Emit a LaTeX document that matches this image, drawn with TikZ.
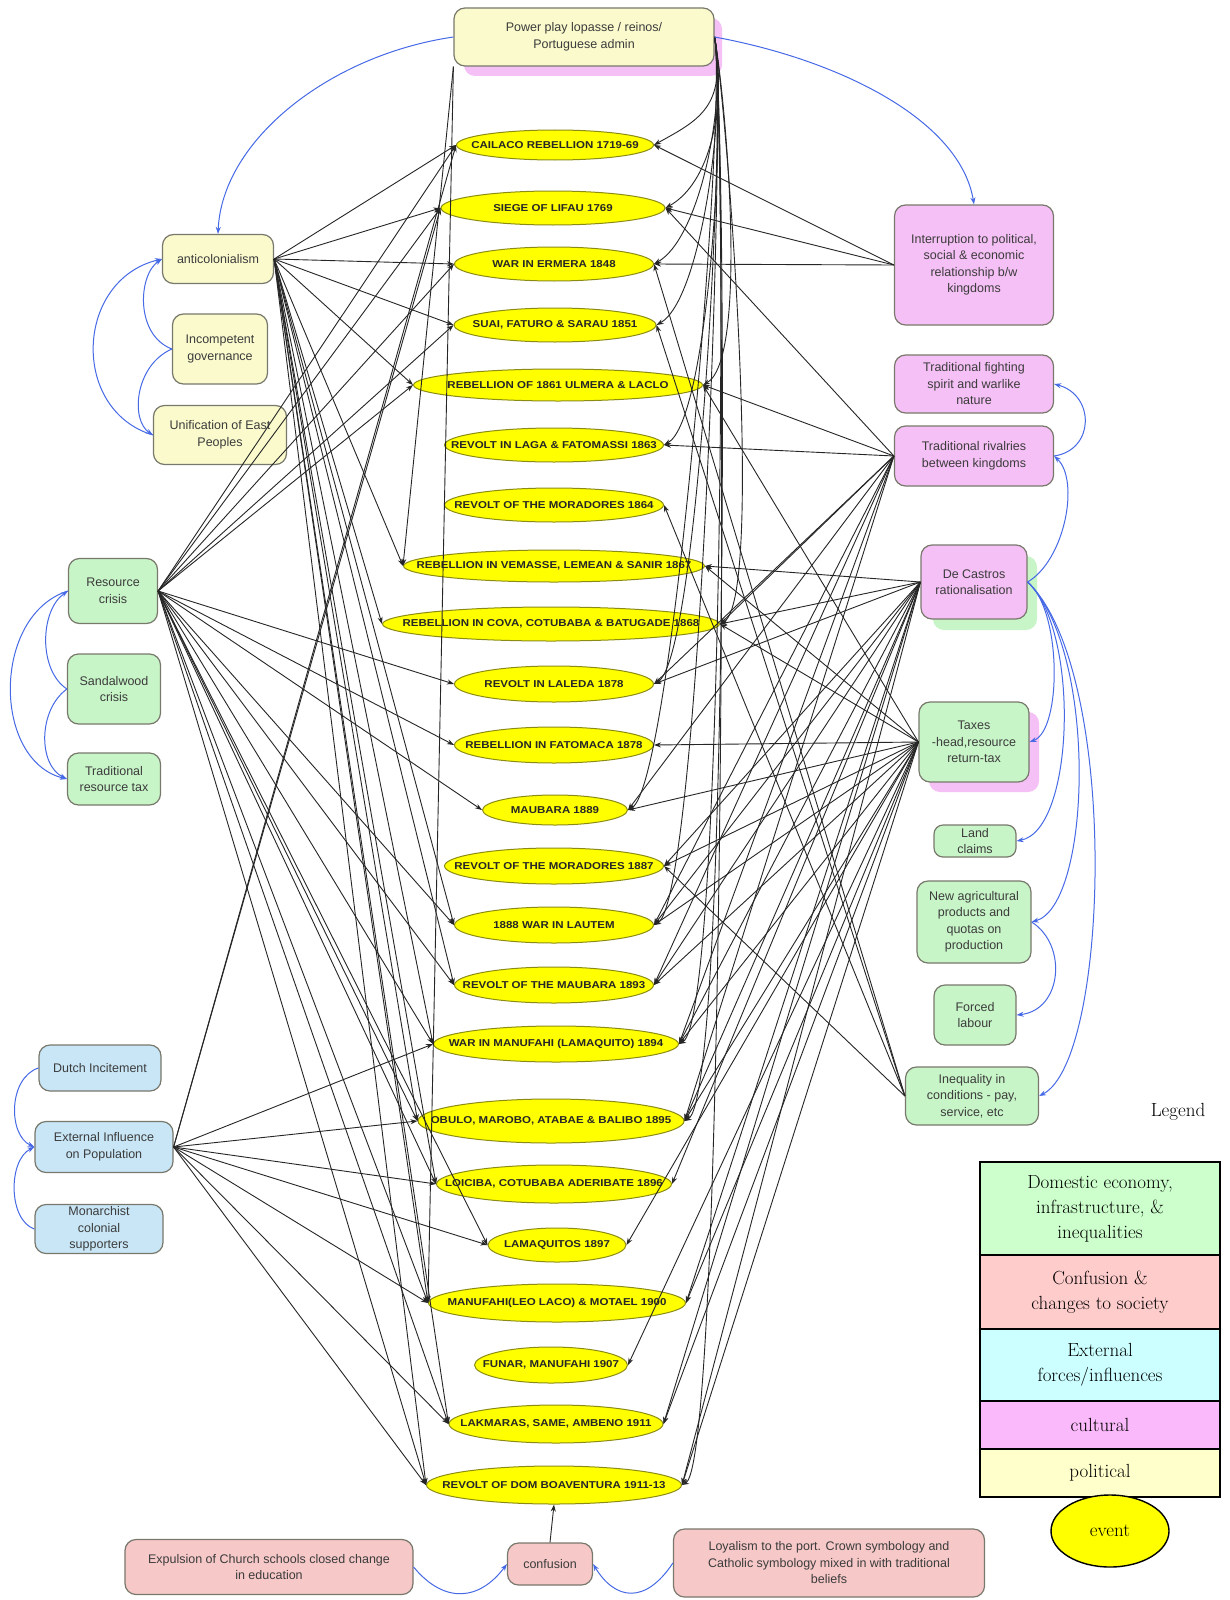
\documentclass[tikz,border=0pt]{standalone}
\usepackage{fontspec}
\setsansfont{Liberation Sans}
\newfontfamily\evfont[FakeStretch=1.15]{Liberation Sans}
\usetikzlibrary{shapes.geometric,arrows.meta}
\definecolor{polfill}{RGB}{250,250,205}
\definecolor{domfill}{RGB}{200,245,200}
\definecolor{extfill}{RGB}{200,230,246}
\definecolor{culfill}{RGB}{245,192,245}
\definecolor{conffill}{RGB}{246,200,200}
\definecolor{bord}{RGB}{120,120,108}
\definecolor{txt}{RGB}{60,60,60}
\definecolor{evfill}{RGB}{255,255,0}
\definecolor{evbord}{RGB}{140,140,20}
\definecolor{bluec}{RGB}{70,105,230}
\definecolor{lgdom}{RGB}{204,255,204}
\definecolor{lgconf}{RGB}{255,204,204}
\definecolor{lgext}{RGB}{204,255,255}
\definecolor{lgcul}{RGB}{250,185,250}
\definecolor{lgpol}{RGB}{255,255,204}
\newcommand\ev[6]{\node[evs, minimum width=#4pt, minimum height=#5pt] (#1) at (#2,#3) {};
  \node[evt] (#1t) at (#1.center) {#6};}
\begin{document}
\begin{tikzpicture}[x=1pt,y=-1pt,
  box/.style={rounded corners=11pt, draw=bord, line width=1.2pt, align=center, text=txt,
    font=\sffamily\fontsize{12.5}{16.5}\selectfont, inner sep=2pt},
  pol/.style={box, fill=polfill},
  dom/.style={box, fill=domfill},
  ext/.style={box, fill=extfill},
  cul/.style={box, fill=culfill},
  conf/.style={box, fill=conffill},
  evs/.style={ellipse, draw=evbord, fill=evfill, line width=1pt, inner sep=0pt},
  evt/.style={inner sep=0pt, font=\evfont\bfseries\fontsize{10}{11}\selectfont, text=black!85},
  blk/.style={-{Stealth[length=7pt,width=5pt]}, line width=0.9pt, black!85},
  blu/.style={-{Stealth[length=7pt,width=5pt]}, line width=1pt, bluec},
  lg/.style={rectangle, draw=black, line width=1.4pt, align=center,
    font=\rmfamily\fontsize{19}{25}\selectfont, inner sep=2pt, minimum width=240pt}
]
\fill[white] (0,0) rectangle (1230,1600);
\useasboundingbox (0,0) rectangle (1230,1600);

% shadows
\fill[culfill, rounded corners=11pt] (464,18) rectangle (722,76);
\fill[domfill, rounded corners=11pt] (933,556) rectangle (1037,630);
\fill[culfill, rounded corners=11pt] (929,712) rectangle (1039,792);

% top
\node[pol, minimum width=260pt, minimum height=58pt] (P) at (584,37) {Power play lopasse / reinos/\\Portuguese admin};

% left
\node[pol, minimum width=111pt, minimum height=49pt] (A) at (218,259) {anticolonialism};
\node[pol, minimum width=95pt, minimum height=70pt] (Inc) at (220,349) {Incompetent\\governance};
\node[pol, minimum width=133pt, minimum height=59pt] (U) at (220,435) {Unification of East\\Peoples};
\node[dom, minimum width=89pt, minimum height=65pt] (Rc) at (113,591) {Resource\\crisis};
\node[dom, minimum width=93pt, minimum height=70pt] (Sw) at (114,689) {Sandalwood\\crisis};
\node[dom, minimum width=93pt, minimum height=52pt] (Rt) at (114,779) {Traditional\\resource tax};
\node[ext, minimum width=122pt, minimum height=46pt] (Du) at (100,1068) {Dutch Incitement};
\node[ext, minimum width=138pt, minimum height=51pt] (Ex) at (104,1147) {External Influence\\on Population};
\node[ext, minimum width=128pt, minimum height=49pt] (Mo) at (99,1229) {Monarchist\\colonial\\supporters};

% right
\node[cul, minimum width=159pt, minimum height=120pt] (I) at (974,265) {Interruption to political,\\social \& economic\\relationship b/w\\kingdoms};
\node[cul, minimum width=159pt, minimum height=58pt] (F) at (974,384) {Traditional fighting\\spirit and warlike\\nature};
\node[cul, minimum width=159pt, minimum height=60pt] (Rv) at (974,456) {Traditional rivalries\\between kingdoms};
\node[cul, minimum width=106pt, minimum height=74pt] (DC) at (974,582) {De Castros\\rationalisation};
\node[dom, minimum width=110pt, minimum height=80pt] (Tx) at (974,742) {Taxes\\-head,resource\\return-tax};
\node[dom, minimum width=82pt, minimum height=32pt, rounded corners=9pt] (Ld) at (975,841) {Land\\claims};
\node[dom, minimum width=114pt, minimum height=82pt] (N) at (974,922) {New agricultural\\products and\\quotas on\\production};
\node[dom, minimum width=82pt, minimum height=60pt] (Fl) at (975,1015) {Forced\\labour};
\node[dom, minimum width=133pt, minimum height=58pt] (Q) at (972,1096) {Inequality in\\conditions - pay,\\service, etc};

% bottom
\node[conf, minimum width=288pt, minimum height=55pt] (Xp) at (269,1567) {Expulsion of Church schools closed change\\in education};
\node[conf, minimum width=85pt, minimum height=42pt] (Cf) at (550,1564) {confusion};
\node[conf, minimum width=311pt, minimum height=68pt] (Ly) at (829,1563) {Loyalism to the port. Crown symbology and\\Catholic symbology mixed in with traditional\\beliefs};

% events
\ev{e1}{555}{145}{197}{30}{CAILACO REBELLION 1719-69}
\ev{e2}{553}{208}{224}{34}{SIEGE OF LIFAU 1769}
\ev{e3}{554}{264}{199}{34}{WAR IN ERMERA 1848}
\ev{e4}{555}{325}{202}{34}{SUAI, FATURO \& SARAU 1851}
\ev{e5}{558}{385}{289}{32}{REBELLION OF 1861 ULMERA \& LACLO}
\ev{e6}{554}{445}{219}{34}{REVOLT IN LAGA \& FATOMASSI 1863}
\ev{e7}{554}{505}{219}{34}{REVOLT OF THE MORADORES 1864}
\ev{e8}{554}{566}{301}{32}{REBELLION IN VEMASSE, LEMEAN \& SANIR 1867}
\ev{e9}{551}{624}{337}{34}{REBELLION IN COVA, COTUBABA \& BATUGADE 1868}
\ev{e10}{554}{684}{199}{36}{REVOLT IN LALEDA 1878}
\ev{e11}{554}{745}{199}{36}{REBELLION IN FATOMACA 1878}
\ev{e12}{555}{810}{145}{30}{MAUBARA 1889}
\ev{e13}{554}{866}{219}{36}{REVOLT OF THE MORADORES 1887}
\ev{e14}{554}{925}{199}{36}{1888 WAR IN LAUTEM}
\ev{e15}{554}{985}{199}{36}{REVOLT OF THE MAUBARA 1893}
\ev{e16}{556}{1044}{245}{36}{WAR IN MANUFAHI (LAMAQUITO) 1894}
\ev{e17}{551}{1121}{266}{44}{OBULO, MAROBO, ATABAE \& BALIBO 1895}
\ev{e18}{554}{1184}{235}{38}{LOICIBA, COTUBABA ADERIBATE 1896}
\ev{e19}{557}{1245}{138}{34}{LAMAQUITOS 1897}
\ev{e20}{557}{1303}{257}{38}{MANUFAHI(LEO LACO) \& MOTAEL 1900}
\ev{e21}{551}{1365}{153}{36}{FUNAR, MANUFAHI 1907}
\ev{e22}{556}{1424}{214}{38}{LAKMARAS, SAME, AMBENO 1911}
\ev{e23}{554}{1485}{255}{38}{REVOLT OF DOM BOAVENTURA 1911-13}

% black connectors, left sources
\foreach \k in {1,2,3,4,5,8,9,14,15,16,17,18,20,22,23}
  \draw[blk] (A.east) -- (e\k.west);
\foreach \k in {1,2,3,4,5,10,11,12,14,15,16,17,18,19,20,22,23}
  \draw[blk] (Rc.east) -- (e\k.west);
\foreach \k in {1,2,16,17,18,19,20,22,23}
  \draw[blk] (Ex.east) -- (e\k.west);
\foreach \k in {8,20}
  \draw[blk] (P.south west) -- (e\k.west);

% black connectors, right sources
\foreach \k in {1,2,3,4,5,6,9,10,12,14,16,17,23}
  \draw[blk] (P.east) .. controls +(12,70) and +(45,-25) .. (e\k.east);
\foreach \k in {1,2,3}
  \draw[blk] (I.west) -- (e\k.east);
\foreach \k in {2,5,6,9,10,12,14,15,16,17}
  \draw[blk] (Rv.west) -- (e\k.east);
\foreach \k in {8,9,10,13,14,15,16,17,18,20,22,23}
  \draw[blk] (DC.west) -- (e\k.east);
\foreach \k in {5,8,9,11,12,13,14,15,16,17,19,20,21,22,23}
  \draw[blk] (Tx.west) -- (e\k.east);
\foreach \k in {3,4,7,13}
  \draw[blk] (Q.west) -- (e\k.east);
\draw[blk] (Cf.north) -- (e23.south);

% blue connectors
\draw[blu] (P.west) .. controls (330,55) and (222,140) .. (A.north);
\draw[blu] (P.east) .. controls (840,60) and (960,120) .. (I.north);
\draw[blu] (Inc.west) .. controls (135,335) and (138,275) .. (A.west);
\draw[blu] (Inc.west) .. controls (135,365) and (130,420) .. (U.west);
\draw[blu] (U.west) .. controls (70,410) and (75,280) .. (A.west);
\draw[blu] (Sw.west) .. controls (38,670) and (40,610) .. (Rc.west);
\draw[blu] (Sw.west) .. controls (38,710) and (38,765) .. (Rt.west);
\draw[blu] (Rc.west) .. controls (-8,615) and (-8,760) .. (Rt.west);
\draw[blu] (Du.west) .. controls (8,1078) and (8,1135) .. (Ex.west);
\draw[blu] (Mo.west) .. controls (8,1220) and (8,1160) .. (Ex.west);
\draw[blu] (Rv.east) .. controls (1095,450) and (1095,395) .. (F.east);
\draw[blu] (DC.east) .. controls (1065,560) and (1080,480) .. (Rv.east);
\draw[blu] (DC.east) .. controls (1062,610) and (1062,730) .. (Tx.east);
\draw[blu] (DC.east) .. controls (1080,630) and (1075,830) .. (Ld.east);
\draw[blu] (DC.east) .. controls (1098,650) and (1092,905) .. (N.east);
\draw[blu] (DC.east) .. controls (1120,670) and (1110,1060) .. (Q.east);
\draw[blu] (N.east) .. controls (1068,945) and (1062,1010) .. (Fl.east);
\draw[blu] (Xp.east) .. controls (445,1605) and (480,1600) .. (Cf.west);
\draw[blu] (Ly.west) .. controls (645,1605) and (615,1600) .. (Cf.east);

% legend
\node[font=\rmfamily\fontsize{19}{23}\selectfont, inner sep=0pt] (lgt) at (1178,1112) {Legend};
\node[lg, fill=lgdom, minimum height=93pt] (lg1) at (1100,1208.5) {Domestic economy,\\infrastructure, \&\\inequalities};
\node[lg, fill=lgconf, minimum height=74pt] (lg2) at (1100,1292) {Confusion \&\\changes to society};
\node[lg, fill=lgext, minimum height=72pt] (lg3) at (1100,1365) {External\\forces/influences};
\node[lg, fill=lgcul, minimum height=48pt] (lg4) at (1100,1425) {cultural};
\node[lg, fill=lgpol, minimum height=48pt] (lg5) at (1100,1473) {political};
\node[ellipse, draw=black, line width=1.4pt, fill=evfill, minimum width=118pt, minimum height=72pt,
  inner sep=0pt, font=\rmfamily\fontsize{19}{23}\selectfont] (lg6) at (1110,1531) {event};
\end{tikzpicture}
\end{document}
